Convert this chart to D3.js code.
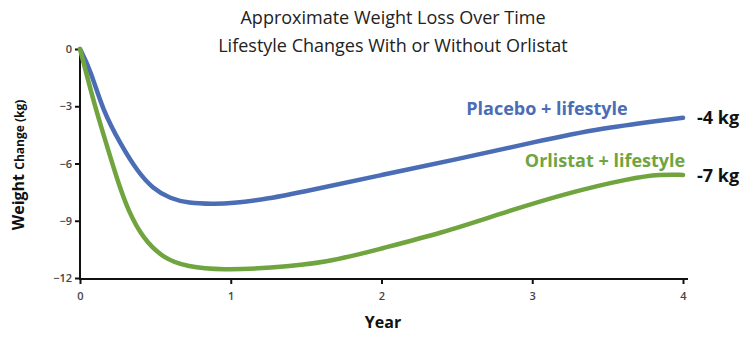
<!DOCTYPE html>
<html>
<head>
<meta charset="utf-8">
<script src="https://cdn.jsdelivr.net/npm/d3@7"></script>
<style>
  body { margin: 0; background: #fff; }
  svg { display: block; font-family: "Open Sans", "Noto Sans", sans-serif; }
</style>
</head>
<body>
<svg id="chart" width="746" height="349"></svg>
<script>
// data
const placeboYears = [0, 0.07, 0.15, 0.27, 0.38, 0.48, 0.6, 0.72, 0.88, 1.0, 1.25, 1.5, 2.0, 2.5, 3.0, 3.45, 4.0];
const placeboKg    = [0, -1.1, -3.2, -5.0, -6.4, -7.3, -7.85, -8.07, -8.12, -8.1, -7.85, -7.45, -6.6, -5.78, -4.9, -4.15, -3.6];
const orlistatYears = [0, 0.046, 0.11, 0.18, 0.245, 0.32, 0.42, 0.55, 0.71, 0.95, 1.25, 1.64, 2.0, 2.4, 2.8, 3.23, 3.66, 3.85, 4.0];
const orlistatKg    = [0, -1.4, -3.3, -5.1, -6.8, -8.5, -9.95, -10.95, -11.42, -11.58, -11.48, -11.2, -10.45, -9.64, -8.6, -7.55, -6.76, -6.57, -6.6];
const yearTicks = [0, 1, 2, 3, 4];
const kgTicks = [0, -3, -6, -9, -12];
const titleLines = ["Approximate Weight Loss Over Time", "Lifestyle Changes With or Without Orlistat"];
const seriesNames = ["Placebo + lifestyle", "Orlistat + lifestyle"];
const endLabels = ["-4 kg", "-7 kg"];

const svg = d3.select('#chart');

const x = d3.scaleLinear().domain([0, 4]).range([80, 683]);
const y = d3.scaleLinear().domain([-12, 0]).range([278, 49]);

// title
svg.selectAll('text.title')
    .data(titleLines)
    .enter().append('text')
    .attr('class', 'title')
    .attr('x', 393)
    .attr('y', (d, i) => 24 + i * 28)
    .attr('text-anchor', 'middle')
    .style('font-size', '18px')
    .style('fill', '#222')
    .text(d => d);

// axes
const xAxis = svg.append('g')
    .attr('transform', `translate(0,${y(-12) + 1})`)
    .call(d3.axisBottom(x).tickValues(yearTicks).tickFormat(d3.format('d'))
        .tickSize(5).tickSizeOuter(0).tickPadding(8));
xAxis.select('.domain').attr('d', `M${x(0) - 1},0H${x(4) + 5}`);

const yAxis = svg.append('g')
    .attr('transform', `translate(${x(0)},0)`)
    .call(d3.axisLeft(y).tickValues(kgTicks).tickFormat(d3.format('d'))
        .tickSize(5).tickSizeOuter(0).tickPadding(3));
yAxis.select('.domain').attr('d', `M0,${y(0)}V${y(-12) + 2}`);

[xAxis, yAxis].forEach(g => {
    g.select('.domain').attr('stroke', '#111').attr('stroke-width', 2);
    g.selectAll('.tick line').attr('stroke', '#111').attr('stroke-width', 2);
    g.selectAll('.tick text')
        .style('font-family', '"Open Sans", sans-serif')
        .style('font-size', '11px')
        .style('font-weight', '600')
        .attr('fill', '#444');
});

// axis titles
svg.append('text')
    .attr('x', 383)
    .attr('y', 328)
    .attr('text-anchor', 'middle')
    .style('font-size', '16px')
    .style('font-weight', 'bold')
    .style('fill', '#111')
    .text('Year');

const yTitle = svg.append('text')
    .attr('transform', 'translate(24,165) rotate(-90)')
    .attr('text-anchor', 'middle')
    .style('font-weight', 'bold')
    .style('fill', '#111');
yTitle.append('tspan').style('font-size', '16px').text('Weight ');
yTitle.append('tspan').style('font-size', '12px').text('Change (kg)');

// lines - basis keeps them smooth like the original drawing
const line = d3.line()
    .x(d => x(d[0]))
    .y(d => y(d[1]))
    .curve(d3.curveBasis);

const series = [
    { pts: d3.zip(placeboYears, placeboKg), color: '#4a6db6' },
    { pts: d3.zip(orlistatYears, orlistatKg), color: '#70a43f' }
];

svg.selectAll('path.series')
    .data(series)
    .enter().append('path')
    .attr('class', 'series')
    .attr('d', d => line(d.pts))
    .attr('fill', 'none')
    .attr('stroke', d => d.color)
    .attr('stroke-width', 4.5)
    .attr('stroke-linecap', 'round')
    .attr('stroke-linejoin', 'round');

// series labels
svg.append('text')
    .attr('x', 547).attr('y', 115)
    .attr('text-anchor', 'middle')
    .style('font-size', '18px').style('font-weight', 'bold')
    .style('fill', series[0].color)
    .text(seriesNames[0]);

svg.append('text')
    .attr('x', 605).attr('y', 167)
    .attr('text-anchor', 'middle')
    .style('font-size', '18px').style('font-weight', 'bold')
    .style('fill', series[1].color)
    .text(seriesNames[1]);

// end labels
svg.selectAll('text.endlab')
    .data(endLabels)
    .enter().append('text')
    .attr('class', 'endlab')
    .attr('x', 697)
    .attr('y', (d, i) => [124, 182][i])
    .style('font-size', '18px').style('font-weight', 'bold')
    .style('fill', '#111')
    .text(d => d);
</script>
</body>
</html>
